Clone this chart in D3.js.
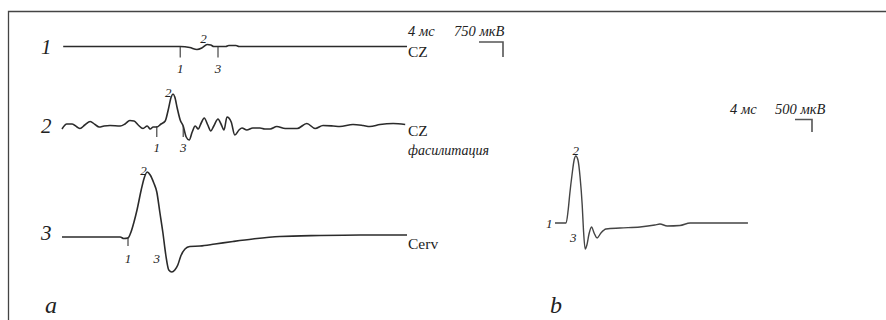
<!DOCTYPE html>
<html>
<head>
<meta charset="utf-8">
<script src="https://cdn.jsdelivr.net/npm/d3@7"></script>
<style>
  body { margin: 0; background: #fff; }
  svg { display: block; }
  text { font-family: "Liberation Serif", "DejaVu Serif", serif; fill: #222; }
  .it { font-style: italic; }
</style>
</head>
<body>
<script>
// panel a, trace 1 (CZ), time in ms, amplitude in uV
const a1Time = [0.2, 19.7, 21.3, 22.5, 23.3, 24.2, 24.8, 25.3, 27.3, 27.8, 29.0, 29.5, 57.5];
const a1Volt = [0, 0, -50, -150, -75, 100, 75, 0, 0, 50, 50, 0, 0];

// panel a, trace 2 (CZ facilitation)
const a2Time = [0, 0.8, 1.7, 2.5, 3.0, 3.8, 4.7, 5.5, 6.2, 7.0, 8.0, 9.7, 10.5, 11.3, 12.0, 12.7, 13.5, 14.2, 14.7,
  15.2, 15.8, 16.5, 17.2, 17.7, 18.2, 18.5, 18.8, 19.2, 19.7, 20.2, 20.7, 21.2, 21.7, 22.2, 22.7, 23.2, 23.7, 24.3,
  24.8, 25.3, 26.0, 26.5, 27.0, 27.5, 28.2, 28.8, 29.5, 30.0, 30.8, 31.8, 33.0, 33.8, 34.7, 35.8, 37.2, 39.2, 40.8,
  42.2, 43.5, 45.2, 46.3, 48.5, 50.2, 51.3, 53.0, 55.2, 57.2];
const a2Volt = [-150, 100, 100, -50, -125, 50, 225, 75, -50, 0, 25, 0, 100, 275, 250, 50, -125, 0, -150,
  -50, -50, 100, 250, 800, 1450, 1600, 1450, 900, 300, 0, -550, -700, -300, 0, -150, 150, 400, 50,
  -250, 0, 350, 100, -200, 450, 200, -450, -200, -100, -200, -100, -100, -150, -150, -25, -125, -125, 125,
  -125, 25, 0, -25, 75, 25, -25, 75, 125, 75];

// panel a, trace 3 (Cerv)
const a3Time = [0, 9.7, 10.3, 11.0, 11.5, 12.0, 12.5, 13.2, 13.7, 14.2, 14.7, 15.3, 15.8, 16.3, 16.8, 17.3, 17.8,
  18.3, 18.8, 19.3, 19.8, 20.5, 21.3, 23.0, 25.5, 28.5, 31.8, 36.3, 43.0, 49.7, 57.5];
const a3Volt = [0, 0, -75, -50, 250, 750, 1350, 2350, 2950, 3250, 3100, 2700, 2250, 1250, 250, -900, -1650,
  -1750, -1650, -1400, -950, -600, -475, -450, -350, -225, -100, 25, 75, 100, 100];

// panel b
const bTime = [0, 2.6, 3.1, 3.5, 4.0, 4.5, 4.9, 5.4, 5.9, 6.4, 6.7, 7.1, 7.5, 8.0, 8.6, 9.2, 9.9, 10.8, 12.0,
  15.3, 20.0, 23.5, 24.7, 26.4, 29.4, 31.8, 45.4];
const bVolt = [0, 0, 520, 1200, 1920, 2520, 2680, 2520, 1840, 720, -280, -1040, -880, -440, -160, -400, -600,
  -400, -240, -200, -160, -80, -40, -120, -100, 0, 0];

const rowNames = ["1", "2", "3"];
const rowLeads = [["CZ"], ["CZ", "фасилитация"], ["Cerv"]];
// component markers: [label, time, tick?]
const a1Marks = [["1", 19.7, true], ["3", 26.0, true]];
const a2Marks = [["1", 15.8, true], ["3", 20.2, true]];
const a3Marks = [["1", 11.0, true], ["3", 15.8, false]];
const scaleA = ["4 мс", "750 мкВ", 4, 750];
const scaleB = ["4 мс", "500 мкВ", 4, 500];
const panelNames = ["a", "b"];

const W = 886, H = 320;
const svg = d3.select("body").append("svg").attr("width", W).attr("height", H);

// frame
svg.append("path")
  .attr("d", "M8.5," + H + "V11.5H" + W)
  .attr("fill", "none").attr("stroke", "#444").attr("stroke-width", 1.3);

const xA = d3.scaleLinear().domain([0, 57.5]).range([62, 62 + 57.5 * 6]);
const rowBase = [46.5, 126, 237];
const yRow = rowBase.map(b => d3.scaleLinear().domain([0, 750]).range([b, b - 15]));

const line = (x, y) => d3.line().x((d, i) => x(d[0])).y(d => y(d[1])).curve(d3.curveMonotoneX);

const traces = [[a1Time, a1Volt], [a2Time, a2Volt], [a3Time, a3Volt]];
traces.forEach(function(tr, r) {
  const pts = tr[0].map((t, i) => [t, tr[1][i]]);
  svg.append("path").datum(pts)
    .attr("d", line(xA, yRow[r]))
    .attr("fill", "none").attr("stroke", "#2b2b2b").attr("stroke-width", 1.6)
    .attr("stroke-linejoin", "round");
  svg.append("text").attr("class", "it")
    .attr("x", 41).attr("y", rowBase[r] + (r == 2 ? 3 : 7))
    .style("font-size", "21px").text(rowNames[r]);
  rowLeads[r].forEach(function(s, k) {
    svg.append("text").attr("class", k ? "it" : null)
      .attr("x", 408).attr("y", rowBase[r] + (r == 2 ? 12 : 10) + k * 19)
      .style("font-size", k ? "14px" : "15.5px").text(s);
  });
});

// markers on panel a
const marks = [a1Marks, a2Marks, a3Marks];
const tickLen = [11, 11, 9];
const labBase = [73, 152, 263];
marks.forEach(function(ms, r) {
  ms.forEach(function(m) {
    const x = xA(m[1]);
    if (m[2]) {
      svg.append("line").attr("x1", x).attr("x2", x)
        .attr("y1", rowBase[r]).attr("y2", rowBase[r] + tickLen[r])
        .attr("stroke", "#333").attr("stroke-width", 1.1);
    }
    svg.append("text").attr("class", "it")
      .attr("x", x).attr("y", labBase[r]).attr("text-anchor", "middle")
      .style("font-size", "13px").text(m[0]);
  });
});
// peak labels "2"
const peaks = [[23.6, 43], [17.7, 97], [13.6, 175]];
peaks.forEach(function(p) {
  svg.append("text").attr("class", "it")
    .attr("x", xA(p[0])).attr("y", p[1]).attr("text-anchor", "middle")
    .style("font-size", "13px").text("2");
});

// scale bar a
svg.append("text").attr("class", "it").attr("x", 408).attr("y", 36).style("font-size", "14.5px").text(scaleA[0]);
svg.append("text").attr("class", "it").attr("x", 454).attr("y", 36).style("font-size", "14.5px").text(scaleA[1]);
const sbA = xA(scaleA[2]) - xA(0), sbAv = yRow[0](0) - yRow[0](scaleA[3]);
svg.append("path")
  .attr("d", "M" + (503 - sbA) + ",42H503v" + sbAv)
  .attr("fill", "none").attr("stroke", "#555").attr("stroke-width", 1.6);

// panel b
const xB = d3.scaleLinear().domain([0, 45.4]).range([555, 555 + 45.4 * 4.25]);
const yB = d3.scaleLinear().domain([0, 500]).range([223, 210.5]);
svg.append("path").datum(bTime.map((t, i) => [t, bVolt[i]]))
  .attr("d", line(xB, yB))
  .attr("fill", "none").attr("stroke", "#444").attr("stroke-width", 1.4)
  .attr("stroke-linejoin", "round");
svg.append("text").attr("class", "it").attr("x", 546).attr("y", 228).style("font-size", "13px").text("1");
svg.append("text").attr("class", "it").attr("x", 570).attr("y", 242).style("font-size", "13px").text("3");
svg.append("text").attr("class", "it").attr("x", xB(4.9)).attr("y", 155).attr("text-anchor", "middle")
  .style("font-size", "13px").text("2");

svg.append("text").attr("class", "it").attr("x", 730).attr("y", 114).style("font-size", "14.5px").text(scaleB[0]);
svg.append("text").attr("class", "it").attr("x", 775).attr("y", 114).style("font-size", "14.5px").text(scaleB[1]);
const sbB = xB(scaleB[2]) - xB(0), sbBv = yB(0) - yB(scaleB[3]);
svg.append("path")
  .attr("d", "M" + (812 - sbB) + ",119.5H812v" + sbBv)
  .attr("fill", "none").attr("stroke", "#555").attr("stroke-width", 1.6);

// panel letters
svg.append("text").attr("class", "it").attr("x", 45).attr("y", 313).style("font-size", "24px").text(panelNames[0]);
svg.append("text").attr("class", "it").attr("x", 550).attr("y", 313).style("font-size", "24px").text(panelNames[1]);
</script>
</body>
</html>
